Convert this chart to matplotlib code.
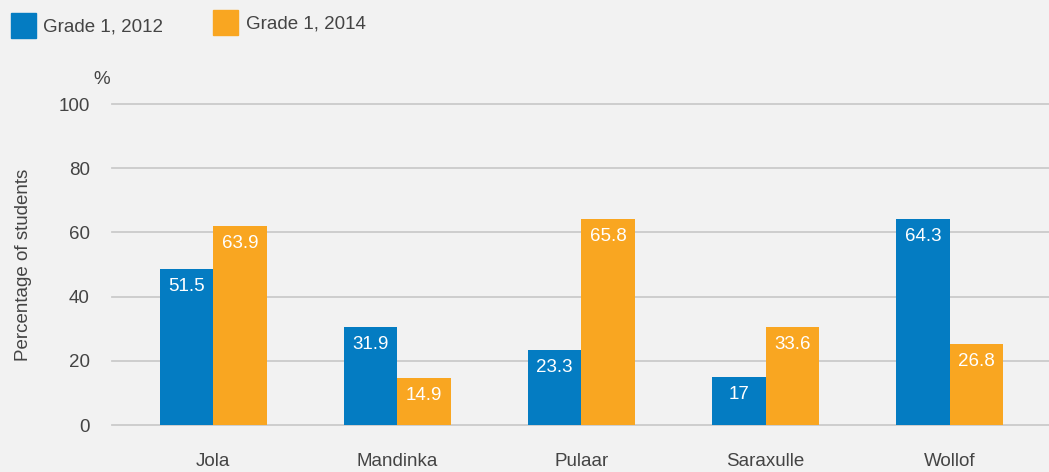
import matplotlib.pyplot as plt
import numpy as np
from matplotlib.patches import Rectangle

plt.rcParams['font.family'] = ['Liberation Sans', 'DejaVu Sans']

# data
languages = ["Jola", "Mandinka", "Pulaar", "Saraxulle", "Wollof"]
series_names = ["Grade 1, 2012", "Grade 1, 2014"]
# values printed on the bars
labels_2012 = ["51.5", "31.9", "23.3", "17", "64.3"]
labels_2014 = ["63.9", "14.9", "65.8", "33.6", "26.8"]
# bar heights as drawn in the source chart
heights_2012 = [48.5, 30.5, 23.4, 15.0, 64.2]
heights_2014 = [62.1, 14.6, 64.2, 30.5, 25.3]
yticks = [0, 20, 40, 60, 80, 100]

blue = "#047cc2"
orange = "#f9a621"
bg = "#f2f2f2"
text_col = "#444444"
grid_col = "#cbcbcb"

W, H = 1049, 472
fig = plt.figure(figsize=(W / 100, H / 100), dpi=100, facecolor=bg)
ax = fig.add_axes([112 / W, 47 / H, (W - 112) / W, 321 / H], facecolor=bg)

x = np.arange(len(languages))
bw = 0.29
bars1 = ax.bar(x - bw / 2, heights_2012, width=bw, color=blue, zorder=3)
bars2 = ax.bar(x + bw / 2, heights_2014, width=bw, color=orange, zorder=3)

for bars, labels in [(bars1, labels_2012), (bars2, labels_2014)]:
    for b, lab in zip(bars, labels):
        ax.annotate(lab, (b.get_x() + b.get_width() / 2, b.get_height()),
                    xytext=(0, -12.5), textcoords="offset points",
                    ha="center", va="center", color="white", fontsize=13.5, zorder=4)

ax.set_xlim(-0.55, 4.54)
ax.set_ylim(0, 100)
ax.set_yticks(yticks)
ax.set_xticks(x)
ax.set_xticklabels(languages)
ax.grid(axis="y", color=grid_col, linewidth=1.3, zorder=0)
for gl in ax.get_ygridlines():
    gl.set_clip_on(False)
for s in ax.spines.values():
    s.set_visible(False)
ax.tick_params(axis="both", length=0, labelsize=13.5, colors=text_col)
ax.tick_params(axis="y", pad=16)
ax.tick_params(axis="x", pad=20)
ax.set_ylabel("Percentage of students", fontsize=13.5, color=text_col)
ax.yaxis.set_label_coords(-80 / (W - 112), 0.5)
ax.text(-2 / (W - 112), 1.075, "%", transform=ax.transAxes, ha="right", va="center",
        fontsize=13.5, color=text_col)

# legend
fig.patches.append(Rectangle((11 / W, 1 - 38 / H), 25 / W, 25 / H,
                             transform=fig.transFigure, color=blue))
fig.text(43 / W, 1 - 27 / H, series_names[0], ha="left", va="center",
         fontsize=13.5, color=text_col)
fig.patches.append(Rectangle((213 / W, 1 - 35 / H), 25 / W, 25 / H,
                             transform=fig.transFigure, color=orange))
fig.text(246 / W, 1 - 24 / H, series_names[1], ha="left", va="center",
         fontsize=13.5, color=text_col)

plt.savefig("out.png", dpi=100, facecolor=bg)
